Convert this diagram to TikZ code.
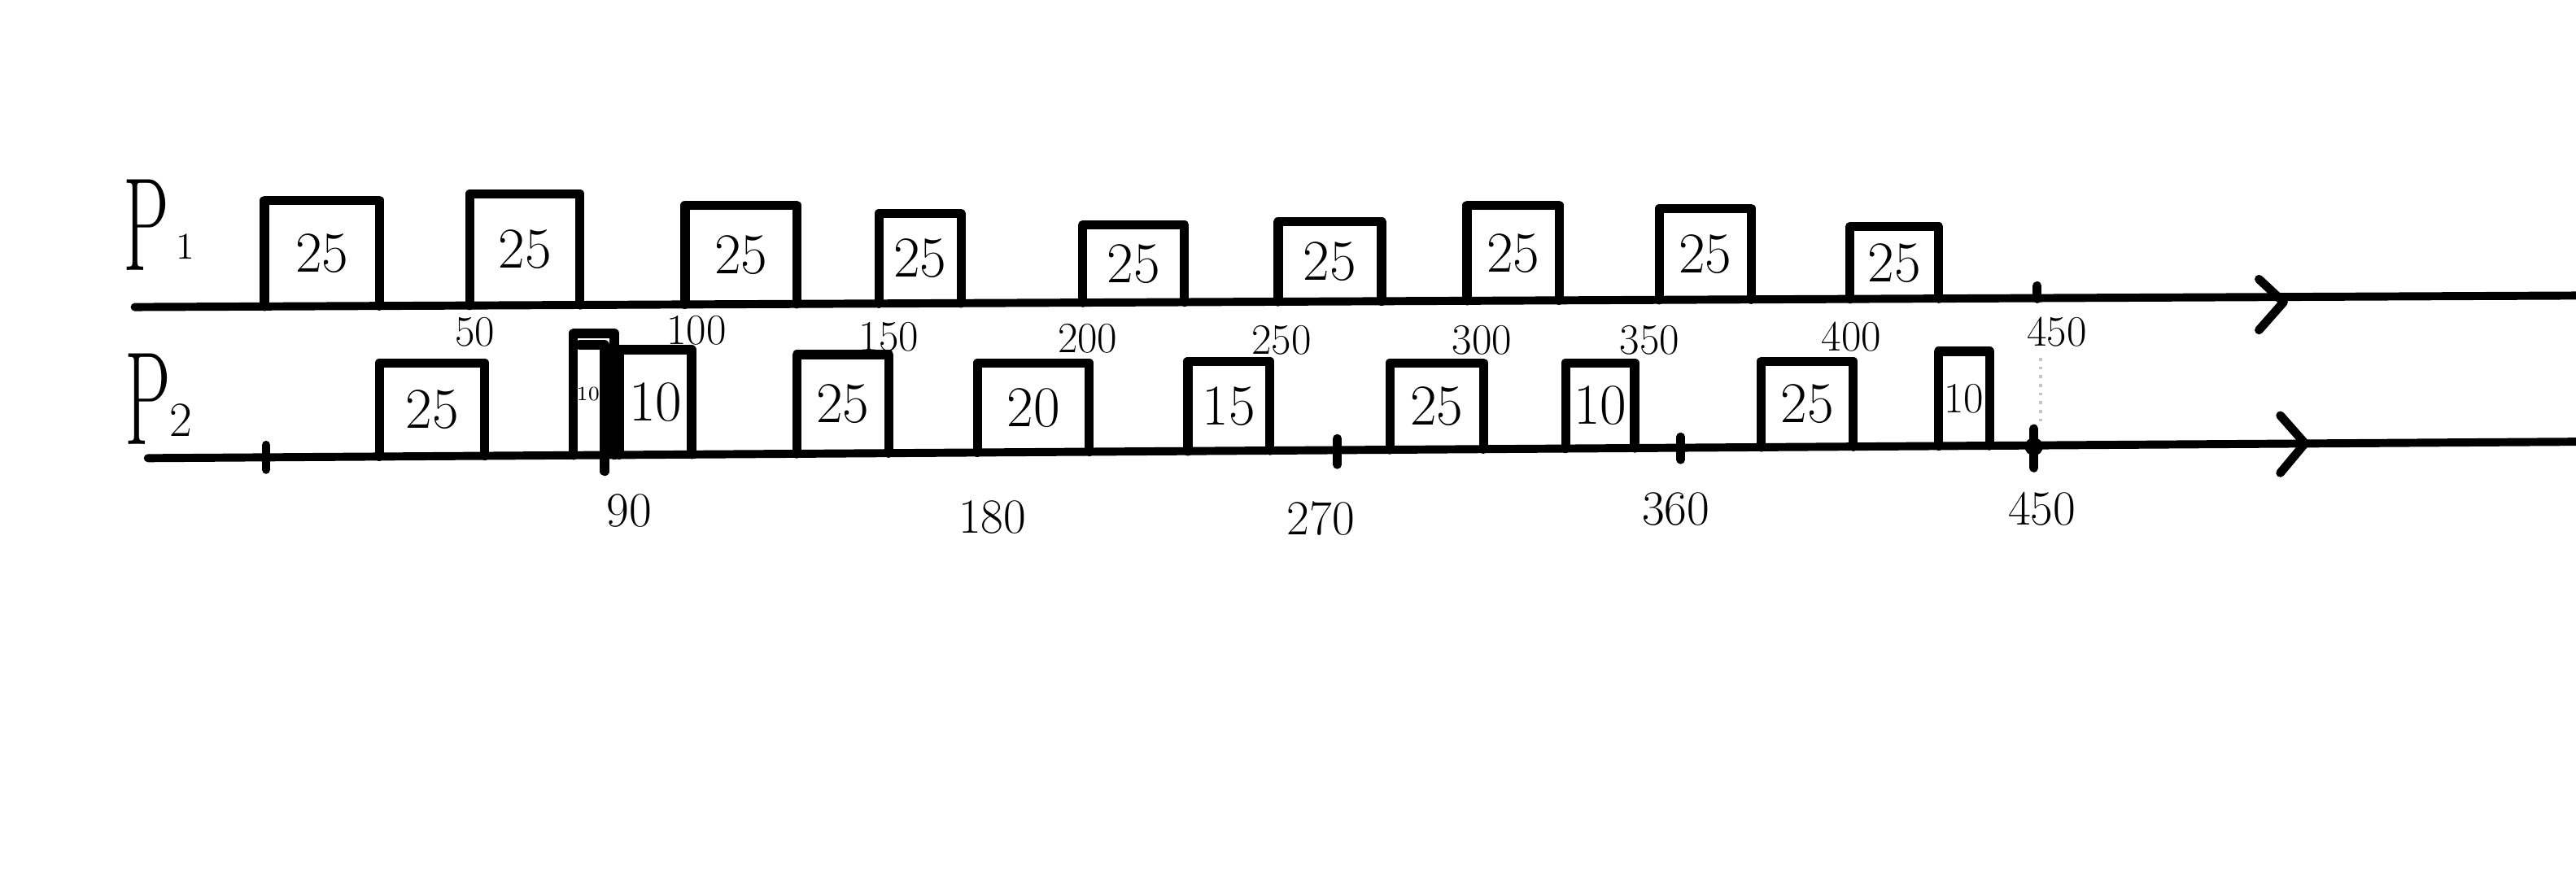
\documentclass[tikz,border=0pt]{standalone}
\usepackage{fontspec}
\begin{document}
\begin{tikzpicture}[x=0.02cm,y=-0.02cm]
\tikzset{
  axisline/.style={line width=2.8pt, line cap=round},
  chevron/.style={line width=3pt, line cap=round, line join=round},
  taskbox/.style={line width=3.2pt, line join=round, line cap=round},
  tickmark/.style={line width=3pt, line cap=round},
  boxlabel/.style={font=\fontsize{20}{20}\selectfont, inner sep=0pt},
  smallbox/.style={font=\fontsize{15}{15}\selectfont, inner sep=0pt},
  tinylabel/.style={font=\fontsize{7}{7}\selectfont, inner sep=0pt},
  toplabel/.style={font=\fontsize{15}{15}\selectfont, inner sep=0pt},
  botlabel/.style={font=\fontsize{17}{17}\selectfont, inner sep=0pt},
  proclabel/.style={inner sep=0pt},
  guide/.style={gray!45, line width=1pt, dotted}
}
\fill[white] (0,0) rectangle (1568,530);
\useasboundingbox (0,0) rectangle (1568,530);

% ---------- P1 ----------
\node[proclabel] (P1) at (89,137) {\scalebox{0.55}[1]{\fontsize{46}{46}\selectfont P}};
\node[proclabel, font=\fontsize{13}{13}\selectfont] (P1s) at (113,150) {1};
\coordinate (a1s) at (82,187);
\coordinate (a1e) at (1568,180);
\draw[axisline] (a1s) -- (a1e);
\coordinate (c1) at (1390,184);
\draw[chevron] (1375,170) -- (c1) -- (1375,201);

\foreach \n/\a/\b/\t in {1/161/231/122, 2/286/353/118, 3/417/485/125, 4/535/585/130,
  5/659/721/137, 6/778/841/135, 7/893/949/125, 8/1010/1066/127, 9/1126/1180/138} {
  \draw[taskbox] (\a,{187-7*(\a-82)/1486}) -- (\a,\t) -- (\b,\t) -- (\b,{187-7*(\b-82)/1486});
  \node[boxlabel] (pa\n) at ({(\a+\b)/2},{(\t+187-7*(\a-82)/1486)/2}) {25};
}
% tick at 450
\draw[tickmark] (1240,174) -- (1240,182);

\foreach \n/\x/\y/\l in {1/289/202/50, 2/424/201/100, 3/541/205/150, 4/662/206/200,
  5/780/207/250, 6/902/207/300, 7/1004/207/350, 8/1127/205/400, 9/1252/202/450} {
  \node[toplabel] (ta\n) at (\x,\y) {\l};
}

% ---------- P2 ----------
\node[proclabel] (P2) at (90,243) {\scalebox{0.55}[1]{\fontsize{46}{46}\selectfont P}};
\node[proclabel, font=\fontsize{17}{17}\selectfont] (P2s) at (110,256) {2};
\coordinate (a2s) at (90,279);
\coordinate (a2e) at (1568,269);
\draw[axisline] (a2s) -- (a2e);
\coordinate (c2) at (1403,270);
\draw[chevron] (1388,253) -- (c2) -- (1388,288);

\foreach \n/\a/\b/\t/\l/\s in {1/231/295/221/25/boxlabel, 3/377/421/213/10/boxlabel,
  4/485/541/216/25/boxlabel, 5/595/663/221/20/boxlabel, 6/723/773/220/15/boxlabel,
  7/846/903/221/25/boxlabel, 8/953/995/221/10/boxlabel, 9/1072/1128/220/25/boxlabel,
  10/1180/1211/214/10/smallbox} {
  \draw[taskbox] (\a,{279-10*(\a-90)/1478}) -- (\a,\t) -- (\b,\t) -- (\b,{279-10*(\b-90)/1478});
  \node[\s] (pb\n) at ({(\a+\b)/2},{(\t+279-10*(\a-90)/1478)/2}) {\l};
}
% narrow box with double line
\draw[taskbox] (349,{279-10*(349-90)/1478}) -- (349,203) -- (374,203) -- (374,{279-10*(374-90)/1478});
\draw[taskbox] (353,210) -- (368,210) -- (368,287);
\node[tinylabel] (pb2) at (358,240) {10};

% ticks on P2
\draw[tickmark] (162,271) -- (162,286);
\draw[tickmark] (814,267) -- (814,283);
\draw[tickmark] (1023,266) -- (1023,280);
\draw[tickmark] (1238,261) -- (1238,285);
\fill (1238,272) circle (5.5);
\draw[guide] (1242,218) -- (1242,260);

\foreach \n/\x/\y/\l in {1/383/311/90, 2/604/315/180, 3/804/316/270, 4/1020/310/360, 5/1243/310/450} {
  \node[botlabel] (tb\n) at (\x,\y) {\l};
}
\end{tikzpicture}
\end{document}
